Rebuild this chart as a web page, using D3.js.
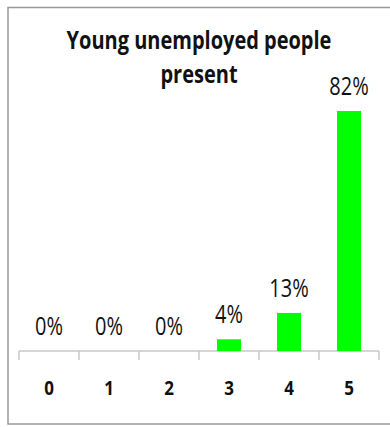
<!DOCTYPE html>
<html>
<head>
<meta charset="utf-8">
<script src="https://cdn.jsdelivr.net/npm/d3@7"></script>
<style>
    body { margin: 0; background: #fff; }
    .frame { fill: none; stroke: #999; stroke-width: 1.5; }
    .title { font-family: "Open Sans", sans-serif; font-weight: bold; font-size: 25px; fill: #111; }
    .label { font-family: "Open Sans", sans-serif; font-size: 25px; fill: #111; }
    .axis text { font-family: "Open Sans", sans-serif; font-weight: bold; font-size: 20px; fill: #111; }
    .axis line { stroke: #c8c8c8; stroke-width: 1.5; }
</style>
</head>
<body>
<div id="chart"></div>
<script>
const categories = ["0", "1", "2", "3", "4", "5"];
const values = [0, 0, 0, 4, 13, 82];
const titleLines = ["Young unemployed people", "present"];

const width = 390, height = 427;
const margin = {left: 19, right: 11, top: 111, bottom: 76};
const squeeze = 0.8; // original uses a narrow font

const svg = d3.select("#chart")
    .append("svg")
        .attr("width", width)
        .attr("height", height);

// outer border (right side is cut off in the original)
svg.append("rect")
    .attr("class", "frame")
    .attr("x", 8)
    .attr("y", 7.5)
    .attr("width", 400)
    .attr("height", 416.5);

svg.selectAll(".title")
    .data(titleLines)
    .join("text")
        .attr("class", "title")
        .attr("transform", (d, i) => `translate(199,${49 + i * 34}) scale(${squeeze},1)`)
        .attr("text-anchor", "middle")
        .text(d => d);

const plotW = width - margin.left - margin.right;
const plotH = height - margin.top - margin.bottom;

const g = svg.append("g")
    .attr("transform", `translate(${margin.left},${margin.top})`);

const x = d3.scaleBand().domain(categories).range([0, plotW]).paddingInner(0.6).paddingOuter(0.3);
const y = d3.scaleLinear().domain([0, 82]).range([plotH, 0]);

// axis line with ticks on category boundaries
const xAxis = g.append("g")
    .attr("class", "axis")
    .attr("transform", `translate(0,${plotH})`);

xAxis.append("line")
    .attr("x1", 0).attr("x2", plotW);

const step = plotW / categories.length;
xAxis.selectAll(".tick-line")
    .data(d3.range(categories.length + 1))
    .join("line")
        .attr("class", "tick-line")
        .attr("x1", d => d * step).attr("x2", d => d * step)
        .attr("y1", 0).attr("y2", 9);

xAxis.selectAll(".cat")
    .data(categories)
    .join("text")
        .attr("class", "cat")
        .attr("transform", d => `translate(${x(d) + x.bandwidth() / 2},44) scale(0.85,1)`)
        .attr("text-anchor", "middle")
        .text(d => d);

g.selectAll(".bar")
    .data(values)
    .join("rect")
        .attr("class", "bar")
        .attr("x", (d, i) => x(categories[i]))
        .attr("y", d => y(d))
        .attr("width", x.bandwidth())
        .attr("height", d => plotH - y(d))
        .attr("fill", "#00ff00");

g.selectAll(".label")
    .data(values)
    .join("text")
        .attr("class", "label")
        .attr("transform", (d, i) => `translate(${x(categories[i]) + x.bandwidth() / 2},${y(d) - 16}) scale(${squeeze},1)`)
        .attr("text-anchor", "middle")
        .text(d => d + "%");
</script>
</body>
</html>
